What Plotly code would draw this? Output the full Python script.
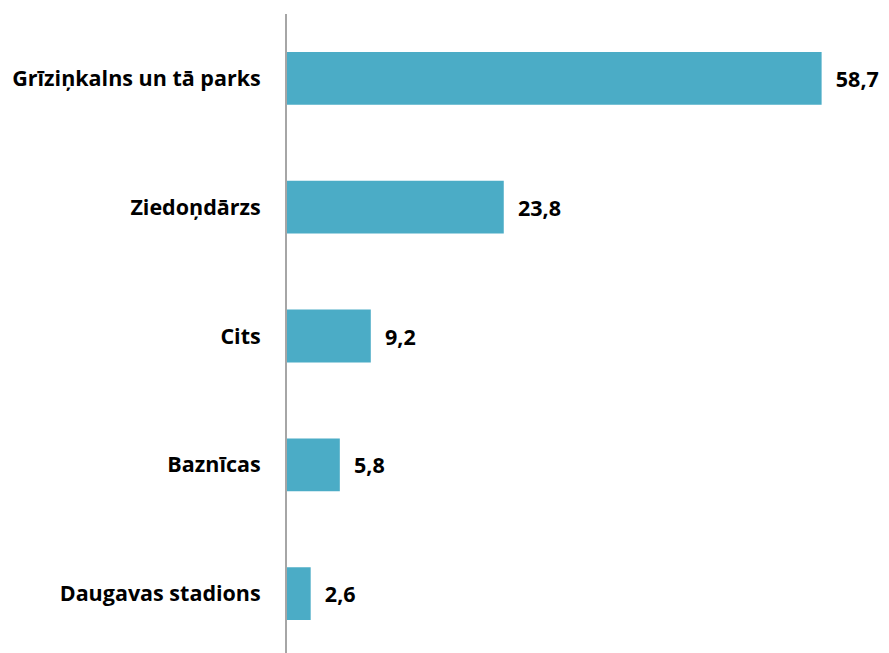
import plotly.graph_objects as go

categories = ["Grīziņkalns un tā parks", "Ziedoņdārzs", "Cits", "Baznīcas", "Daugavas stadions"]
values = [58.7, 23.8, 9.2, 5.8, 2.6]

FONT = "Open Sans"

fig = go.Figure()

fig.add_trace(go.Bar(
    x=values, y=categories, orientation="h",
    marker=dict(color="#4BACC6", line=dict(width=0)),
    texttemplate="  %{x:.1f}", textposition="outside",
    textfont=dict(family=FONT, size=21.5, color="#000000", weight="bold"),
    cliponaxis=False,
))

fig.update_layout(
    width=889, height=653,
    margin=dict(l=279, r=18, t=6, b=3),
    plot_bgcolor="white", paper_bgcolor="white",
    separators=", ",
    bargap=0.59,
    showlegend=False,
    font=dict(family=FONT, size=21.5, color="#000000"),
)
fig.update_xaxes(range=[0, 65], visible=False, showgrid=False, zeroline=False, automargin=False)
fig.update_yaxes(autorange="reversed", showline=True, linecolor="#A6A6A6", linewidth=2,
                 ticks="", ticklabelstandoff=20, showgrid=False, automargin=False,
                 tickfont=dict(family=FONT, size=21.5, color="#000000", weight="bold"))

fig.write_html("out.html")
